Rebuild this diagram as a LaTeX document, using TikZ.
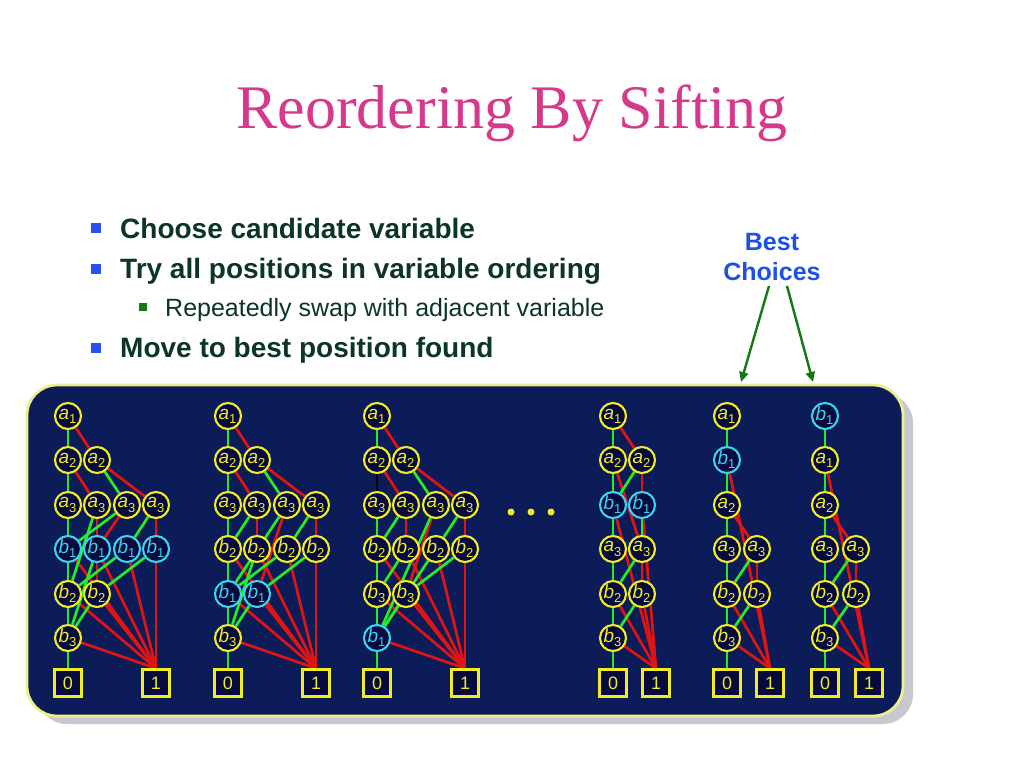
\documentclass[tikz,border=0pt]{standalone}
\usepackage{fontspec}
\setmainfont{Liberation Sans}
\newfontfamily\serifT{Liberation Serif}
\usetikzlibrary{arrows.meta}
\pgfdeclarelayer{bg}
\pgfdeclarelayer{edges}
\pgfsetlayers{bg,edges,main}
\definecolor{titlepink}{RGB}{214,56,140}
\definecolor{txtdark}{RGB}{12,52,42}
\definecolor{bulblue}{RGB}{40,80,240}
\definecolor{bulgreen}{RGB}{20,120,20}
\definecolor{bestblue}{RGB}{30,80,230}
\definecolor{arrgreen}{RGB}{20,120,20}
\definecolor{panelblue}{RGB}{12,28,88}
\definecolor{panelborder}{RGB}{238,238,140}
\definecolor{shadowgray}{RGB}{200,200,208}
\definecolor{nodefill}{RGB}{6,10,60}
\definecolor{ylw}{RGB}{240,236,40}
\definecolor{cyn}{RGB}{60,210,240}
\definecolor{egreen}{RGB}{40,235,40}
\definecolor{ered}{RGB}{225,20,20}
\tikzset{
  vnode/.style={circle, draw=ylw, fill=nodefill, line width=2.1pt, minimum size=26pt, inner sep=0pt, text=ylw, font=\fontsize{19}{19}\selectfont},
  bnode/.style={vnode, draw=cyn, text=cyn},
  tnode/.style={rectangle, draw=ylw, fill=nodefill, line width=2.3pt, minimum size=27pt, inner sep=0pt, text=ylw, font=\fontsize{18}{18}\selectfont},
  loedge/.style={draw=egreen, line width=2.7pt},
  hiedge/.style={draw=ered, line width=2.7pt},
  bulbig/.style={fill=bulblue, minimum size=10pt, inner sep=0pt},
  bulsmall/.style={fill=bulgreen, minimum size=8pt, inner sep=0pt},
  maintext/.style={anchor=base west, inner sep=0pt, text=txtdark, font=\bfseries\fontsize{28}{28}\selectfont},
  subtext/.style={anchor=base west, inner sep=0pt, text=txtdark, font=\fontsize{25}{25}\selectfont},
  besttext/.style={anchor=base, inner sep=0pt, text=bestblue, font=\bfseries\fontsize{25}{25}\selectfont},
  bestarrow/.style={draw=arrgreen, line width=2.4pt, -{Triangle[length=10pt,width=9pt]}},
  dot/.style={circle, fill=ylw, minimum size=7pt, inner sep=0pt},
}
\newcommand{\vv}[2]{\kern-1pt\textit{#1}\raisebox{-0.22em}{\fontsize{13}{13}\selectfont #2}}
\newcommand{\HE}[2]{\draw[hiedge] (#1) -- (#2);}
\newcommand{\LE}[2]{\draw[loedge] (#1) -- (#2);}
\begin{document}
\begin{tikzpicture}[x=1pt,y=-1pt]
\useasboundingbox (0,0) rectangle (1024,768);

% title
\node[anchor=base, inner sep=0pt, text=titlepink, font=\serifT\fontsize{62}{62}\selectfont] (title) at (512,128) {Reordering By Sifting};

% bullets
\node[bulbig] (bu1) at (96,228) {};
\node[maintext] (t1) at (120,238) {Choose candidate variable};
\node[bulbig] (bu2) at (96,269) {};
\node[maintext] (t2) at (120,278) {Try all positions in variable ordering};
\node[bulsmall] (bu3) at (143,307) {};
\node[subtext] (t3) at (165,316) {Repeatedly swap with adjacent variable};
\node[bulbig] (bu4) at (96,348) {};
\node[maintext] (t4) at (120,357) {Move to best position found};

% best choices
\node[besttext] (best1) at (772,250) {Best};
\node[besttext] (best2) at (772,280) {Choices};
\coordinate (s1) at (769,286);
\coordinate (s2) at (787,286);
\coordinate (e1) at (741,382);
\coordinate (e2) at (813,382);
\draw[bestarrow] (s1) -- (e1);
\draw[bestarrow] (s2) -- (e2);

% background and panel
\begin{pgfonlayer}{bg}
\fill[white] (0,0) rectangle (1024,768);
\fill[shadowgray, rounded corners=30pt] (37,393) rectangle (913,724);
\draw[fill=panelblue, draw=panelborder, line width=2.8pt, rounded corners=30pt] (27,385) rectangle (903,716);
\end{pgfonlayer}

% ===== Diagram 1 =====
\node[vnode] (d1-11) at (68,416) {\vv a1};
\node[vnode] (d1-21) at (68,460) {\vv a2};
\node[vnode] (d1-22) at (97,460) {\vv a2};
\node[vnode] (d1-31) at (68,505) {\vv a3};
\node[vnode] (d1-32) at (97,505) {\vv a3};
\node[vnode] (d1-33) at (127,505) {\vv a3};
\node[vnode] (d1-34) at (156,505) {\vv a3};
\node[bnode] (d1-41) at (68,549) {\vv b1};
\node[bnode] (d1-42) at (97,549) {\vv b1};
\node[bnode] (d1-43) at (127,549) {\vv b1};
\node[bnode] (d1-44) at (156,549) {\vv b1};
\node[vnode] (d1-51) at (68,594) {\vv b2};
\node[vnode] (d1-52) at (97,594) {\vv b2};
\node[vnode] (d1-61) at (68,638) {\vv b3};
\node[tnode] (d1-0) at (68,683) {0};
\node[tnode] (d1-1) at (156,683) {1};
\begin{pgfonlayer}{edges}
\HE{d1-11}{d1-22}\HE{d1-21}{d1-32}\HE{d1-22}{d1-34}\HE{d1-31}{d1-61}
\HE{d1-32}{d1-52}\HE{d1-33}{d1-42}\HE{d1-34}{d1-44}
\HE{d1-41}{d1-1.north}\HE{d1-42}{d1-1.north}\HE{d1-43}{d1-1.north}\HE{d1-44}{d1-1.north}
\HE{d1-51}{d1-1.north}\HE{d1-52}{d1-1.north}\HE{d1-61}{d1-1.north}
\LE{d1-11}{d1-21}\LE{d1-21}{d1-31}\LE{d1-22}{d1-33}\LE{d1-31}{d1-0.north}
\LE{d1-32}{d1-51}\LE{d1-33}{d1-41}\LE{d1-34}{d1-43}
\LE{d1-41}{d1-0.north}\LE{d1-42}{d1-61}\LE{d1-43}{d1-51}\LE{d1-44}{d1-52}
\LE{d1-51}{d1-0.north}\LE{d1-52}{d1-61}\LE{d1-61}{d1-0.north}
\end{pgfonlayer}

% ===== Diagram 2 =====
\node[vnode] (d2-11) at (228,416) {\vv a1};
\node[vnode] (d2-21) at (228,460) {\vv a2};
\node[vnode] (d2-22) at (257,460) {\vv a2};
\node[vnode] (d2-31) at (228,505) {\vv a3};
\node[vnode] (d2-32) at (257,505) {\vv a3};
\node[vnode] (d2-33) at (287,505) {\vv a3};
\node[vnode] (d2-34) at (316,505) {\vv a3};
\node[vnode] (d2-41) at (228,549) {\vv b2};
\node[vnode] (d2-42) at (257,549) {\vv b2};
\node[vnode] (d2-43) at (287,549) {\vv b2};
\node[vnode] (d2-44) at (316,549) {\vv b2};
\node[bnode] (d2-51) at (228,594) {\vv b1};
\node[bnode] (d2-52) at (257,594) {\vv b1};
\node[vnode] (d2-61) at (228,638) {\vv b3};
\node[tnode] (d2-0) at (228,683) {0};
\node[tnode] (d2-1) at (316,683) {1};
\begin{pgfonlayer}{edges}
\HE{d2-11}{d2-22}\HE{d2-21}{d2-32}\HE{d2-22}{d2-34}\HE{d2-31}{d2-61}
\HE{d2-32}{d2-42}\HE{d2-33}{d2-52}\HE{d2-34}{d2-44}
\HE{d2-41}{d2-1.north}\HE{d2-42}{d2-1.north}\HE{d2-43}{d2-1.north}\HE{d2-44}{d2-1.north}
\HE{d2-51}{d2-1.north}\HE{d2-52}{d2-1.north}\HE{d2-61}{d2-1.north}
\LE{d2-11}{d2-21}\LE{d2-21}{d2-31}\LE{d2-22}{d2-33}\LE{d2-31}{d2-0.north}
\LE{d2-32}{d2-41}\LE{d2-33}{d2-51}\LE{d2-34}{d2-43}
\LE{d2-41}{d2-0.north}\LE{d2-42}{d2-61}\LE{d2-43}{d2-51}\LE{d2-44}{d2-52}
\LE{d2-51}{d2-0.north}\LE{d2-52}{d2-61}\LE{d2-61}{d2-0.north}
\end{pgfonlayer}

% ===== Diagram 3 =====
\node[vnode] (d3-11) at (377,416) {\vv a1};
\node[vnode] (d3-21) at (377,460) {\vv a2};
\node[vnode] (d3-22) at (406,460) {\vv a2};
\node[vnode] (d3-31) at (377,505) {\vv a3};
\node[vnode] (d3-32) at (406,505) {\vv a3};
\node[vnode] (d3-33) at (436,505) {\vv a3};
\node[vnode] (d3-34) at (465,505) {\vv a3};
\node[vnode] (d3-41) at (377,549) {\vv b2};
\node[vnode] (d3-42) at (406,549) {\vv b2};
\node[vnode] (d3-43) at (436,549) {\vv b2};
\node[vnode] (d3-44) at (465,549) {\vv b2};
\node[vnode] (d3-51) at (377,594) {\vv b3};
\node[vnode] (d3-52) at (406,594) {\vv b3};
\node[bnode] (d3-61) at (377,638) {\vv b1};
\node[tnode] (d3-0) at (377,683) {0};
\node[tnode] (d3-1) at (465,683) {1};
\begin{pgfonlayer}{edges}
\HE{d3-11}{d3-22}\HE{d3-21}{d3-32}\HE{d3-22}{d3-34}\HE{d3-31}{d3-51}
\HE{d3-32}{d3-42}\HE{d3-33}{d3-52}\HE{d3-34}{d3-44}
\HE{d3-41}{d3-1.north}\HE{d3-42}{d3-1.north}\HE{d3-43}{d3-1.north}\HE{d3-44}{d3-1.north}
\HE{d3-51}{d3-1.north}\HE{d3-52}{d3-1.north}\HE{d3-61}{d3-1.north}
\LE{d3-11}{d3-21}\draw[draw=black, line width=2.7pt] (d3-21) -- (d3-31);\LE{d3-22}{d3-33}\LE{d3-31}{d3-0.north}
\LE{d3-32}{d3-41}\LE{d3-33}{d3-61}\LE{d3-34}{d3-43}
\LE{d3-41}{d3-0.north}\LE{d3-42}{d3-51}\LE{d3-43}{d3-61}\LE{d3-44}{d3-52}
\LE{d3-51}{d3-0.north}\LE{d3-52}{d3-61}\LE{d3-61}{d3-0.north}
\end{pgfonlayer}

% ellipsis
\node[dot] (dot1) at (511,512) {};
\node[dot] (dot2) at (531,512) {};
\node[dot] (dot3) at (551,512) {};

% ===== Diagram 4 =====
\node[vnode] (d4-11) at (613,416) {\vv a1};
\node[vnode] (d4-21) at (613,460) {\vv a2};
\node[vnode] (d4-22) at (642,460) {\vv a2};
\node[bnode] (d4-31) at (613,505) {\vv b1};
\node[bnode] (d4-32) at (642,505) {\vv b1};
\node[vnode] (d4-41) at (613,549) {\vv a3};
\node[vnode] (d4-42) at (642,549) {\vv a3};
\node[vnode] (d4-51) at (613,594) {\vv b2};
\node[vnode] (d4-52) at (642,594) {\vv b2};
\node[vnode] (d4-61) at (613,638) {\vv b3};
\node[tnode] (d4-0) at (613,683) {0};
\node[tnode] (d4-1) at (656,683) {1};
\begin{pgfonlayer}{edges}
\HE{d4-11}{d4-22}\HE{d4-21}{d4-42}\HE{d4-22}{d4-32}
\HE{d4-31}{d4-1.north}\HE{d4-32}{d4-1.north}\HE{d4-41}{d4-61}\HE{d4-42}{d4-52}
\HE{d4-51}{d4-1.north}\HE{d4-52}{d4-1.north}\HE{d4-61}{d4-1.north}
\LE{d4-11}{d4-21}\LE{d4-21}{d4-41}\LE{d4-22}{d4-31}\LE{d4-31}{d4-41}\LE{d4-32}{d4-42}
\LE{d4-41}{d4-0.north}\LE{d4-42}{d4-51}\LE{d4-51}{d4-0.north}\LE{d4-52}{d4-61}\LE{d4-61}{d4-0.north}
\end{pgfonlayer}

% ===== Diagram 5 =====
\node[vnode] (d5-11) at (727,416) {\vv a1};
\node[bnode] (d5-21) at (727,460) {\vv b1};
\node[vnode] (d5-31) at (727,505) {\vv a2};
\node[vnode] (d5-41) at (727,549) {\vv a3};
\node[vnode] (d5-42) at (757,549) {\vv a3};
\node[vnode] (d5-51) at (727,594) {\vv b2};
\node[vnode] (d5-52) at (757,594) {\vv b2};
\node[vnode] (d5-61) at (727,638) {\vv b3};
\node[tnode] (d5-0) at (727,683) {0};
\node[tnode] (d5-1) at (770,683) {1};
\begin{pgfonlayer}{edges}
\HE{d5-11}{d5-21}\HE{d5-21}{d5-1.north}\HE{d5-31}{d5-42}\HE{d5-41}{d5-61}\HE{d5-42}{d5-52}
\HE{d5-51}{d5-1.north}\HE{d5-52}{d5-1.north}\HE{d5-61}{d5-1.north}
\LE{d5-11}{d5-31}\LE{d5-21}{d5-31}\LE{d5-31}{d5-41}\LE{d5-41}{d5-0.north}\LE{d5-42}{d5-51}
\LE{d5-51}{d5-0.north}\LE{d5-52}{d5-61}\LE{d5-61}{d5-0.north}
\end{pgfonlayer}

% ===== Diagram 6 =====
\node[bnode] (d6-11) at (825,416) {\vv b1};
\node[vnode] (d6-21) at (825,460) {\vv a1};
\node[vnode] (d6-31) at (825,505) {\vv a2};
\node[vnode] (d6-41) at (825,549) {\vv a3};
\node[vnode] (d6-42) at (856,549) {\vv a3};
\node[vnode] (d6-51) at (825,594) {\vv b2};
\node[vnode] (d6-52) at (856,594) {\vv b2};
\node[vnode] (d6-61) at (825,638) {\vv b3};
\node[tnode] (d6-0) at (825,683) {0};
\node[tnode] (d6-1) at (869,683) {1};
\begin{pgfonlayer}{edges}
\HE{d6-11}{d6-21}\HE{d6-21}{d6-1.north}\HE{d6-31}{d6-42}\HE{d6-41}{d6-61}\HE{d6-42}{d6-52}
\HE{d6-51}{d6-1.north}\HE{d6-52}{d6-1.north}\HE{d6-61}{d6-1.north}
\LE{d6-11}{d6-31}\LE{d6-21}{d6-31}\LE{d6-31}{d6-41}\LE{d6-41}{d6-0.north}\LE{d6-42}{d6-51}
\LE{d6-51}{d6-0.north}\LE{d6-52}{d6-61}\LE{d6-61}{d6-0.north}
\end{pgfonlayer}
\end{tikzpicture}
\end{document}
